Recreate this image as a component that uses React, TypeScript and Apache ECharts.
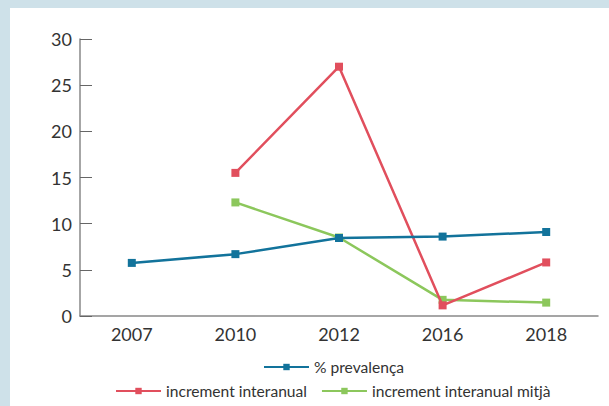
import React, { useEffect, useRef } from "react";
import * as echarts from "echarts";

const years = ["2007", "2010", "2012", "2016", "2018"];
const prevalenca = [5.75, 6.7, 8.45, 8.6, 9.1];
const incrementInteranual = [null, 15.5, 27.0, 1.15, 5.8];
const incrementMitja = [null, 12.3, 8.5, 1.75, 1.45];

const BLUE = "#12739b";
const RED = "#e14f5d";
const GREEN = "#8cc75c";
const FONT = "Lato";

export default function App() {
  const ref = useRef<HTMLDivElement>(null);
  useEffect(() => {
    if (!ref.current) return;
    const chart = echarts.init(ref.current, undefined, { renderer: "svg" });
    const lineSeries = (name: string, data: any[], color: string, z: number) => ({
      name,
      type: "line",
      data,
      z,
      symbol: "rect",
      symbolSize: 8,
      connectNulls: false,
      itemStyle: { color },
      lineStyle: { color, width: 2.5 },
    });
    chart.setOption({
      animation: false,
      textStyle: { fontFamily: FONT },
      grid: { left: 70, right: 11, top: 31, bottom: 90 },
      legend: [
        {
          data: ["% prevalença"],
          left: 253,
          top: 351,
          padding: 0,
          itemWidth: 45,
          itemHeight: 8,
          itemGap: 14,
          textStyle: { fontFamily: FONT, fontSize: 15.6, color: "#333" },
        },
        {
          data: ["increment interanual", "increment interanual mitjà"],
          left: 105,
          top: 375,
          padding: 0,
          itemWidth: 45,
          itemHeight: 8,
          itemGap: 14,
          textStyle: { fontFamily: FONT, fontSize: 15.6, color: "#333" },
        },
      ],
      xAxis: {
        type: "category",
        data: years,
        boundaryGap: true,
        axisLine: { lineStyle: { color: "#888", width: 1.5 } },
        axisTick: { inside: true, length: 6, lineStyle: { color: "#666" } },
        axisLabel: { fontFamily: FONT, fontSize: 18, color: "#333", margin: 9 },
      },
      yAxis: {
        type: "value",
        min: 0,
        max: 30,
        interval: 5,
        axisLine: { show: true, lineStyle: { color: "#888", width: 1.5 } },
        axisTick: { show: true, inside: true, length: 12, lineStyle: { color: "#666" } },
        axisLabel: { fontFamily: FONT, fontSize: 18, color: "#333", margin: 8 },
        splitLine: { show: false },
      },
      series: [
        lineSeries("increment interanual mitjà", incrementMitja, GREEN, 2),
        lineSeries("increment interanual", incrementInteranual, RED, 3),
        lineSeries("% prevalença", prevalenca, BLUE, 4),
      ],
    });
    return () => chart.dispose();
  }, []);
  return (
    <div
      style={{
        position: "fixed",
        left: 0,
        top: 0,
        width: 609,
        height: 406,
        background: "#cee1e9",
      }}
    >
      <div
        ref={ref}
        style={{
          position: "absolute",
          left: 10,
          top: 8,
          width: 599,
          height: 398,
          background: "#ffffff",
        }}
      />
    </div>
  );
}
